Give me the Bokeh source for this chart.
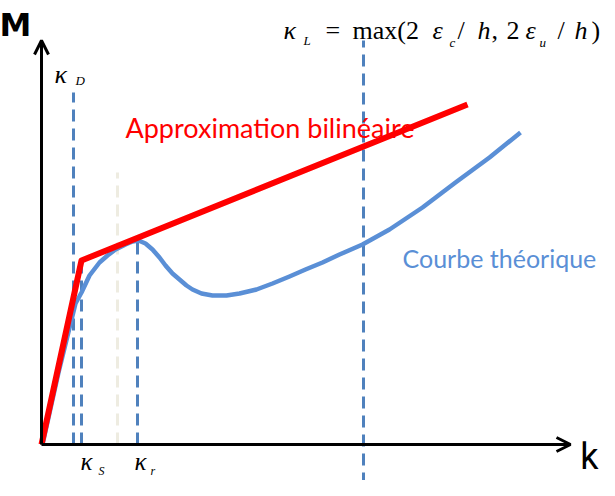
from bokeh.plotting import figure
from bokeh.models import Range1d, Arrow, OpenHead
from bokeh.core.properties import value
from bokeh.embed import file_html
from bokeh.resources import INLINE

# Data in axis units (k = curvature, M = moment), origin at the axes' crossing
bilin_k = [0, 40, 426]
bilin_M = [0, 184, 340]

theo_k = [1, 17, 34, 40, 48, 58, 66, 74, 84, 91, 97, 104, 111, 118, 124, 131, 138,
          145, 151, 160, 171, 185, 198, 215, 231, 248, 264, 281, 298, 321, 348, 381,
          414, 448, 479]
theo_M = [0, 72, 141, 152, 169, 182, 189, 195, 200, 203, 204, 201, 195, 187, 179,
          171, 165, 159, 155, 151, 149, 149, 151, 155, 161, 168, 175, 182, 190, 200,
          215, 237, 262, 287, 312]

# vertical reference lines: kD, kS, kr, kL and a faint one
vline_k = [32, 40, 96, 322]
vline_M0 = [0, 0, 0, -40]
vline_M1 = [352, 182, 204, 404]
faint_k = [76]
faint_M0 = [0]
faint_M1 = [272]

axis_k_max = 529
axis_M_max = 404

p = figure(width=606, height=480, x_range=Range1d(-41, 565), y_range=Range1d(-36, 444),
           output_backend="svg", toolbar_location=None, min_border=0,
           x_axis_type=None, y_axis_type=None)
p.grid.visible = False
p.outline_line_color = None
p.background_fill_color = "white"

# dashed verticals
p.segment(x0=faint_k, y0=faint_M0, x1=faint_k, y1=faint_M1, line_color="#EEECE1",
          line_width=3, line_dash="12 7")
p.segment(x0=vline_k, y0=vline_M0, x1=vline_k, y1=vline_M1, line_color="#4F81BD",
          line_width=3, line_dash="12 7")

# axes
p.add_layout(Arrow(end=OpenHead(size=14, line_width=3, line_color="black"),
                   x_start=0, y_start=0, x_end=0, y_end=axis_M_max,
                   line_width=3, line_color="black"))
p.add_layout(Arrow(end=OpenHead(size=14, line_width=3, line_color="black"),
                   x_start=0, y_start=0, x_end=axis_k_max, y_end=0,
                   line_width=3, line_color="black"))

# curves
p.line(theo_k, theo_M, line_color="#5A8FD6", line_width=4.5, line_join="round")
p.line(bilin_k, bilin_M, line_color="#FF0000", line_width=6, line_join="round")

serif = value("Liberation Serif")

def txt(x, y, s, size, color="black", font=serif, style="italic", align="left",
        baseline="alphabetic"):
    p.text(x=[x], y=[y], text=[s], text_font=font, text_font_size=f"{size}px",
           text_font_style=style, text_color=color, text_align=align,
           text_baseline=baseline)

# axis labels
txt(-26, 420, "M", 32, font=value("DejaVu Sans"), style="bold", align="center",
    baseline="middle")
txt(557, -33, "k", 36, font=value("Roboto"), style="normal", align="right",
    baseline="bottom")

# curve labels
txt(84, 317, "Approximation bilinéaire", 27, color="#FF0000", font=value("Lato"),
    style="normal")
txt(361, 187, "Courbe théorique", 25, color="#5A8FD6", font=value("Lato"),
    style="normal")

# kappa labels
txt(13, 370, "κ", 26)
txt(34, 364, "D", 13)
txt(39, -30, "κ", 25, baseline="bottom")
txt(57, -33, "S", 12, baseline="bottom")
txt(93, -30, "κ", 25, baseline="bottom")
txt(109, -33, "r", 12, baseline="bottom")

# formula
txt(242, 414, "κ", 26)
txt(262, 404, "L", 13)
txt(284, 414, "=", 26, style="normal")
txt(311, 414, "max(2", 26, style="normal")
txt(391, 414, "ε", 26)
txt(408, 402, "c", 13)
txt(416, 414, "/", 26, style="normal")
txt(436, 414, "h", 26)
txt(450, 414, ",", 26, style="normal")
txt(465, 414, "2", 26, style="normal")
txt(484, 414, "ε", 26)
txt(498, 402, "u", 13)
txt(516, 414, "/", 26, style="normal")
txt(533, 414, "h", 26)
txt(550, 414, ")", 26, style="normal")

open("out.html", "w").write(file_html(p, INLINE))
